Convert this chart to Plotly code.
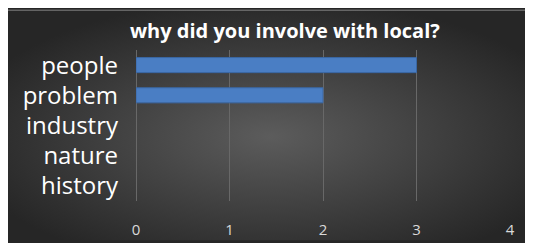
import plotly.graph_objects as go
import urllib.parse

categories = ["people", "problem", "industry", "nature", "history"]
values = [3, 2, 0, 0, 0]
x_ticks = [0, 1, 2, 3, 4]
title_text = "why did you involve with local?"

# page has an 8px body margin; figure is 533x243 and overflows the window by 8px
W, H = 533, 243
L, R, T, B = 128, 31, 42, 48
PW, PH = W - L - R, H - T - B

def px_x(px):
    return (px - L) / PW

def px_y(py):
    return (H - B - py) / PH

svg = (
    "<svg xmlns='http://www.w3.org/2000/svg' width='525' height='234' viewBox='0 0 525 234' preserveAspectRatio='none'>"
    "<defs><radialGradient id='g' cx='50%' cy='55%' r='60%' gradientUnits='objectBoundingBox'>"
    "<stop offset='0' stop-color='#5c5c5c'/><stop offset='1' stop-color='#262626'/>"
    "</radialGradient></defs>"
    "<rect x='0' y='0' width='525' height='234' fill='url(#g)'/>"
    "<line x1='0' y1='0.5' x2='525' y2='0.5' stroke='#a0a0a0' stroke-width='1'/>"
    "</svg>"
)
src = "data:image/svg+xml;charset=utf-8," + urllib.parse.quote(svg)

fig = go.Figure()
fig.add_trace(go.Bar(
    x=values, y=categories, orientation="h", width=0.5,
    marker=dict(color="#4a7ec4",
                line=dict(color="#3a67a3", width=[1 if v > 0 else 0 for v in values])),
))

fig.update_layout(
    width=W, height=H,
    margin=dict(l=L, r=R, t=T, b=B, pad=0),
    paper_bgcolor="#262626",
    plot_bgcolor="rgba(0,0,0,0)",
    showlegend=False,
    font=dict(family="Open Sans, Noto Sans, sans-serif", color="white"),
    images=[dict(
        source=src, xref="paper", yref="paper",
        x=px_x(0), y=px_y(1), sizex=px_x(525) - px_x(0), sizey=px_y(1) - px_y(235),
        xanchor="left", yanchor="top", sizing="stretch", layer="below",
    )],
    xaxis=dict(
        range=[0, 4], tickvals=x_ticks, showgrid=True, gridcolor="#686868", gridwidth=1,
        zeroline=True, zerolinecolor="#686868", zerolinewidth=1,
        showline=False, ticks="", tickfont=dict(size=15, color="#d9d9d9"),
        ticklabelstandoff=18, fixedrange=True,
    ),
    yaxis=dict(
        categoryorder="array", categoryarray=categories, autorange="reversed",
        tickmode="array", tickvals=categories, ticktext=categories,
        showgrid=False, zeroline=False, showline=False, ticks="",
        tickfont=dict(size=24, color="white"), ticklabelstandoff=17,
    ),
    annotations=[dict(
        text="<b>" + title_text + "</b>", xref="paper", yref="paper",
        x=px_x(277), y=px_y(22.5), xanchor="center", yanchor="middle",
        showarrow=False, font=dict(size=20, color="white"),
    )],
)

fig.write_html("out.html")
